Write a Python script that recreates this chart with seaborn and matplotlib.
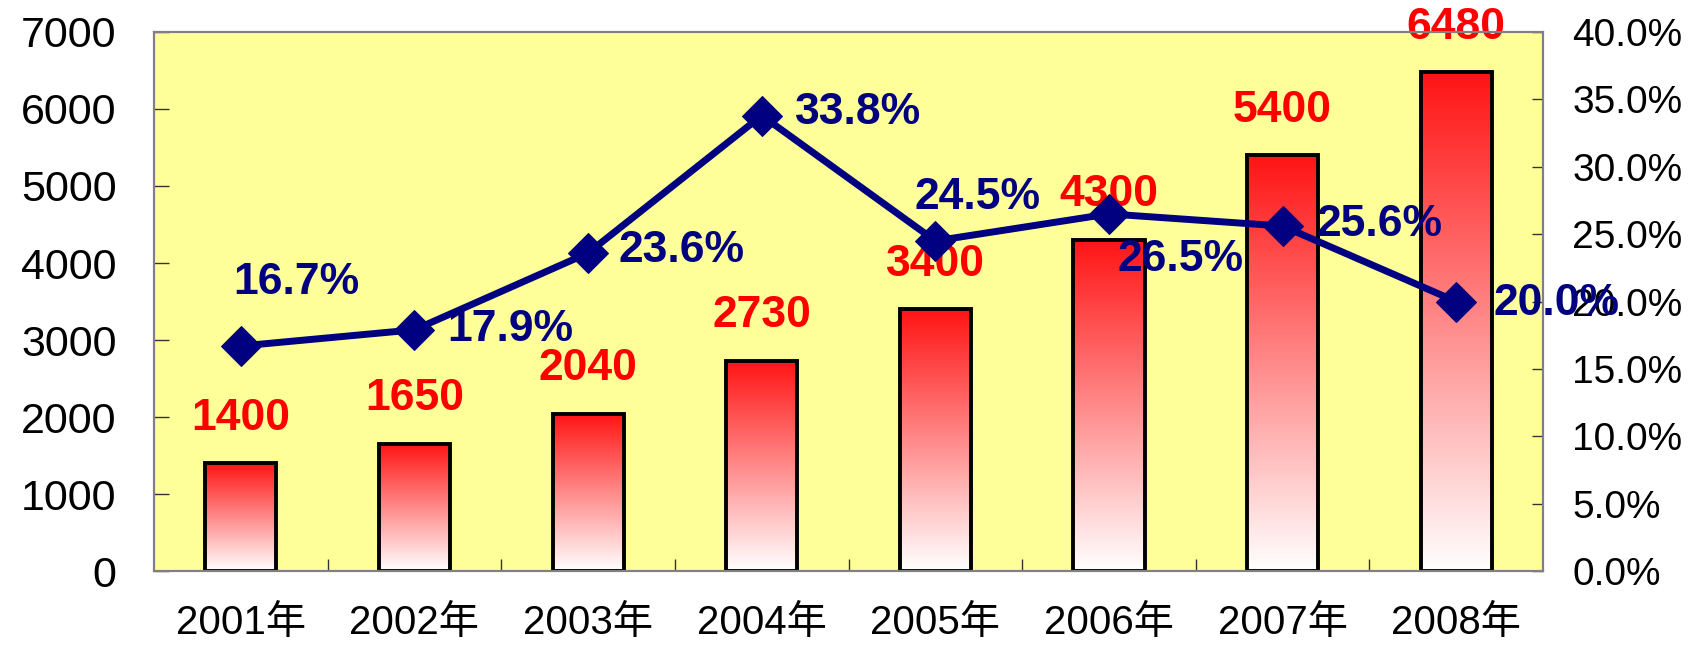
import numpy as np
import matplotlib
matplotlib.use('Agg')
import matplotlib.pyplot as plt
from matplotlib.colors import LinearSegmentedColormap
from matplotlib.ticker import FuncFormatter
import seaborn as sns

# data
years = ['2001年', '2002年', '2003年', '2004年', '2005年', '2006年', '2007年', '2008年']
sales = [1400, 1650, 2040, 2730, 3400, 4300, 5400, 6480]
growth = [16.7, 17.9, 23.6, 33.8, 24.5, 26.5, 25.6, 20.0]

# label offsets (pixels) for the growth labels, to mimic the original placement
pct_offsets = [(-8, 63), (33, 0), (30, 2), (33, 3), (-21, 43), (9, -46), (34, 2), (37, -2)]

sns.set_theme(style='white')
plt.rcParams['font.family'] = ['Liberation Sans', 'Noto Sans CJK SC', 'DejaVu Sans']
plt.rcParams['text.color'] = 'black'
plt.rcParams['xtick.labelcolor'] = 'black'
plt.rcParams['ytick.labelcolor'] = 'black'

fig = plt.figure(figsize=(16.89, 6.45), dpi=100)
ax = fig.add_axes([0.0912, 0.1147, 0.8224, 0.8357])
ax.set_facecolor('#FFFF99')

# bars: drawn by seaborn, then filled with a red->white gradient
sns.barplot(x=years, y=sales, ax=ax, width=0.41, color='red',
            edgecolor='black', linewidth=2.8, saturation=1)
red_white = LinearSegmentedColormap.from_list('rw', ['#FFFFFF', '#FF1414'])
grad = np.linspace(0, 1, 256).reshape(-1, 1)
for p in ax.patches:
    x0, y0 = p.get_x(), p.get_y()
    w, h = p.get_width(), p.get_height()
    im = ax.imshow(grad, extent=[x0, x0 + w, y0, y0 + h], origin='lower',
                   aspect='auto', cmap=red_white, zorder=1.5, interpolation='bicubic')
    im.set_clip_path(p)
    p.set_facecolor('none')
    p.set_zorder(2)

for i, v in enumerate(sales):
    ax.annotate(str(v), xy=(i, v), xytext=(0, 45), textcoords='offset pixels',
                ha='center', va='center', color='#FF0000', fontsize=32,
                fontweight='bold', zorder=3)

ax.set_xlim(-0.5, len(years) - 0.5)
ax.set_ylim(0, 7000)
ax.set_yticks(range(0, 7001, 1000))
ax.set_xticks(range(len(years)))
ax.set_xticklabels(years, fontsize=29)
ax.set_xticks(np.arange(0.5, len(years) - 1, 1), minor=True)
ax.tick_params(axis='x', which='major', length=0, pad=24)
ax.tick_params(axis='x', which='minor', direction='in', length=9, width=1,
               color='#333333', bottom=True)
ax.tick_params(axis='y', direction='in', length=11, width=1, color='#333333',
               labelsize=31, pad=27, left=True)
ax.set_xlabel('')
ax.set_ylabel('')

# growth line on the secondary axis
ax2 = ax.twinx()
sns.lineplot(x=np.arange(len(years)), y=growth, ax=ax2, color='#000080',
             linewidth=5, marker='D', markersize=20, markeredgecolor='#000080')
ax2.set_ylim(0, 40)
ax2.set_yticks(np.arange(0, 40.1, 5))
ax2.yaxis.set_major_formatter(FuncFormatter(lambda v, _: '%.1f%%' % v))
ax2.tick_params(axis='y', direction='in', length=8, width=1, color='#333333',
                labelsize=28, pad=21, right=True)
for i, v in enumerate(growth):
    dx, dy = pct_offsets[i]
    ax2.annotate('%.1f%%' % v, xy=(i, v), xytext=(dx, dy), textcoords='offset pixels',
                 ha='left', va='center', color='#000080', fontsize=32,
                 fontweight='bold')

for a in (ax, ax2):
    for s in a.spines.values():
        s.set_color('#808080')
        s.set_linewidth(1.5)

fig.savefig('out.png', dpi=100)
